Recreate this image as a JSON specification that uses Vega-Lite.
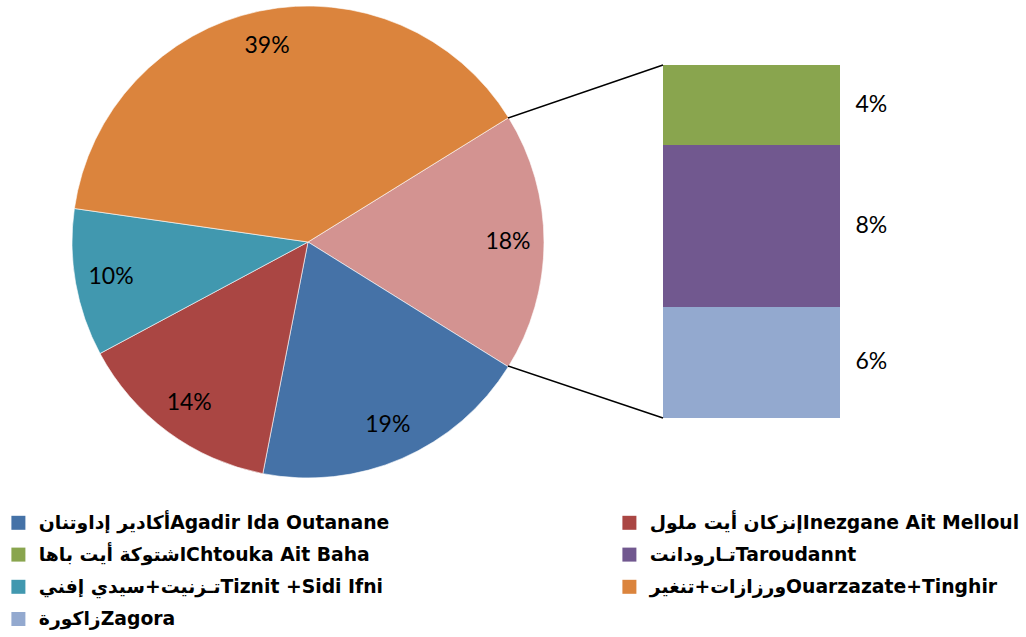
{
  "$schema": "https://vega.github.io/schema/vega-lite/v6.json",
  "width": 1026,
  "height": 637,
  "autosize": "none",
  "padding": 0,
  "background": "white",
  "config": {"view": {"stroke": null}},
  "layer": [
    {
      "data": {"values": [
        {"name": "Other", "value": 17.7, "rank": 0},
        {"name": "أكادير إداوتنانAgadir Ida Outanane", "value": 19.2, "rank": 1},
        {"name": "إنزكان أيت ملولInezgane Ait Melloul", "value": 14.1, "rank": 2},
        {"name": "تـزنيت+سيدي إفنيTiznit +Sidi Ifni", "value": 10.1, "rank": 3},
        {"name": "ورزازات+تنغيرOuarzazate+Tinghir", "value": 38.9, "rank": 4}
      ]},
      "mark": {"type": "arc", "x": 308, "y": 242, "outerRadius": 236, "stroke": "#ffffff", "strokeWidth": 0.6},
      "encoding": {
        "theta": {"field": "value", "type": "quantitative", "stack": true, "scale": {"domain": [0, 100], "range": [1.0158, 7.299]}},
        "order": {"field": "rank", "type": "quantitative"},
        "color": {
          "field": "name", "type": "nominal",
          "condition": {"test": "datum.name === 'Other'", "value": "#D39391"},
          "scale": {
            "domain": ["أكادير إداوتنانAgadir Ida Outanane", "اشتوكة أيت باهاChtouka Ait Baha", "تـزنيت+سيدي إفنيTiznit +Sidi Ifni", "زاكورةZagora", "إنزكان أيت ملولInezgane Ait Melloul", "تـارودانتTaroudannt", "ورزازات+تنغيرOuarzazate+Tinghir"],
            "range": ["#4572A7", "#89A54E", "#4198AF", "#93A9CF", "#AA4643", "#71588F", "#DB843D"]
          },
          "legend": {
            "title": null, "orient": "none", "legendX": 9, "legendY": 513, "columns": 2,
            "symbolType": "square", "symbolSize": 196, "symbolStrokeWidth": 0,
            "labelFont": "DejaVu Sans", "labelFontSize": 18.8, "labelFontWeight": "bold", "labelColor": "#000000",
            "labelLimit": 600, "labelOffset": 11, "rowPadding": 12.2, "columnPadding": 230
          }
        }
      }
    },
    {
      "data": {"values": [
        {"name": "Other", "value": 17.7, "rank": 0},
        {"name": "أكادير إداوتنانAgadir Ida Outanane", "value": 19.2, "rank": 1},
        {"name": "إنزكان أيت ملولInezgane Ait Melloul", "value": 14.1, "rank": 2},
        {"name": "تـزنيت+سيدي إفنيTiznit +Sidi Ifni", "value": 10.1, "rank": 3},
        {"name": "ورزازات+تنغيرOuarzazate+Tinghir", "value": 38.9, "rank": 4}
      ]},
      "transform": [{"calculate": "format(datum.value, '.0f') + '%'", "as": "label"}],
      "mark": {"type": "text", "x": 308, "y": 242, "radius": 200, "font": "Lato", "fontSize": 23, "color": "#000000"},
      "encoding": {
        "theta": {"field": "value", "type": "quantitative", "stack": true, "scale": {"domain": [0, 100], "range": [1.0158, 7.299]}},
        "order": {"field": "rank", "type": "quantitative"},
        "text": {"field": "label", "type": "nominal"}
      }
    },
    {
      "data": {"values": [
        {"name": "زاكورةZagora", "value": 5.57, "rank": 0},
        {"name": "تـارودانتTaroudannt", "value": 8.12, "rank": 1},
        {"name": "اشتوكة أيت باهاChtouka Ait Baha", "value": 4.01, "rank": 2}
      ]},
      "mark": {"type": "bar"},
      "encoding": {
        "x": {"datum": "Other", "type": "nominal", "scale": {"range": [663, 840], "paddingInner": 0, "paddingOuter": 0}, "axis": null},
        "y": {"field": "value", "type": "quantitative", "stack": "zero", "scale": {"domain": [0, 17.7], "range": [418, 65]}, "axis": null},
        "order": {"field": "rank", "type": "quantitative"},
        "color": {
          "field": "name", "type": "nominal",
          "scale": {
            "domain": ["أكادير إداوتنانAgadir Ida Outanane", "اشتوكة أيت باهاChtouka Ait Baha", "تـزنيت+سيدي إفنيTiznit +Sidi Ifni", "زاكورةZagora", "إنزكان أيت ملولInezgane Ait Melloul", "تـارودانتTaroudannt", "ورزازات+تنغيرOuarzazate+Tinghir"],
            "range": ["#4572A7", "#89A54E", "#4198AF", "#93A9CF", "#AA4643", "#71588F", "#DB843D"]
          }
        }
      }
    },
    {
      "data": {"values": [
        {"name": "زاكورةZagora", "value": 5.57, "rank": 0},
        {"name": "تـارودانتTaroudannt", "value": 8.12, "rank": 1},
        {"name": "اشتوكة أيت باهاChtouka Ait Baha", "value": 4.01, "rank": 2}
      ]},
      "transform": [
        {"stack": "value", "groupby": [], "sort": [{"field": "rank", "order": "ascending"}], "as": ["v0", "v1"]},
        {"calculate": "(datum.v0 + datum.v1) / 2", "as": "mid"},
        {"calculate": "format(datum.value, '.0f') + '%'", "as": "label"}
      ],
      "mark": {"type": "text", "align": "left", "dx": 104, "font": "Lato", "fontSize": 23, "color": "#000000"},
      "encoding": {
        "x": {"datum": "Other", "type": "nominal", "scale": {"range": [663, 840], "paddingInner": 0, "paddingOuter": 0}, "axis": null},
        "y": {"field": "mid", "type": "quantitative", "scale": {"domain": [0, 17.7], "range": [418, 65]}, "axis": null},
        "text": {"field": "label", "type": "nominal"}
      }
    },
    {
      "data": {"values": [{}]},
      "mark": {"type": "rule", "stroke": "#000000", "strokeWidth": 1.5},
      "encoding": {"x": {"value": 508}, "y": {"value": 118}, "x2": {"value": 663}, "y2": {"value": 65}}
    },
    {
      "data": {"values": [{}]},
      "mark": {"type": "rule", "stroke": "#000000", "strokeWidth": 1.5},
      "encoding": {"x": {"value": 508}, "y": {"value": 366}, "x2": {"value": 663}, "y2": {"value": 418}}
    }
  ]
}
